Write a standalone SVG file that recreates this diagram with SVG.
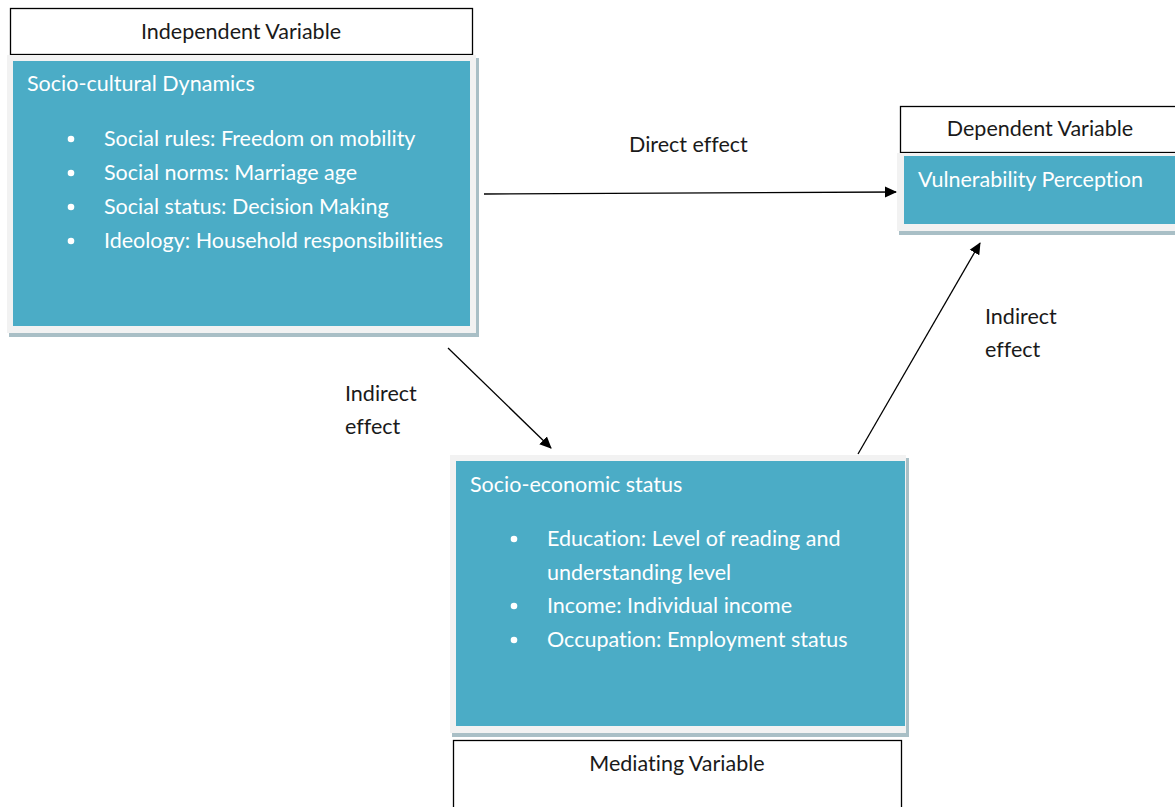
<svg xmlns="http://www.w3.org/2000/svg" width="1175" height="807" viewBox="0 0 1175 807">
<defs>
<marker id="ah" markerWidth="12" markerHeight="12" refX="11" refY="6" orient="auto" markerUnits="userSpaceOnUse" viewBox="0 0 12 12">
<path d="M0,0.5 L12,6 L0,11.5 z" fill="#000"/>
</marker>
<style>
.lbl{fill:#fff;stroke:#000;stroke-width:1.3}
.frame{fill:#f2f2f2}
.shadow{fill:#a9bfc6}
.teal{fill:#4bacc6}
.t{font-family:Lato,"Open Sans",sans-serif;font-size:21.5px;font-variant-ligatures:none}
.dk{fill:#1a1a1a}
.wt{fill:#fff}
.conn{stroke:#000;stroke-width:1.3;fill:none;marker-end:url(#ah)}
</style>
</defs>
<rect width="1175" height="807" fill="#fff"/>
<g id="independent">
<rect class="lbl" x="10.5" y="8.5" width="462" height="46"/>
<text class="t dk" x="241" y="39" text-anchor="middle">Independent Variable</text>
<rect class="shadow" x="9" y="58" width="470" height="279"/>
<rect class="frame" x="7" y="55" width="469" height="278"/>
<rect class="teal" x="13" y="61" width="457" height="265"/>
<text class="t wt" x="27" y="91">Socio-cultural Dynamics</text>
<g class="wt">
<circle cx="71" cy="139" r="3.3"/><circle cx="71" cy="173" r="3.3"/><circle cx="71" cy="207" r="3.3"/><circle cx="71" cy="241" r="3.3"/>
</g>
<text class="t wt" x="104" y="146">Social rules: Freedom on mobility</text>
<text class="t wt" x="104" y="180">Social norms: Marriage age</text>
<text class="t wt" x="104" y="214">Social status: Decision Making</text>
<text class="t wt" x="104" y="248">Ideology: Household responsibilities</text>
</g>
<g id="dependent">
<rect class="lbl" x="900.5" y="106.5" width="276" height="46"/>
<text class="t dk" x="1040" y="136" text-anchor="middle">Dependent Variable</text>
<rect class="shadow" x="899" y="156" width="280" height="79"/>
<rect class="frame" x="897" y="153" width="280" height="78"/>
<rect class="teal" x="904" y="156" width="273" height="68"/>
<text class="t wt" x="918" y="187">Vulnerability Perception</text>
</g>
<g id="mediating">
<rect class="shadow" x="452" y="458" width="457" height="279"/>
<rect class="frame" x="450" y="455" width="456" height="278"/>
<rect class="teal" x="456" y="461" width="449" height="265"/>
<text class="t wt" x="470" y="492">Socio-economic status</text>
<g class="wt">
<circle cx="514" cy="539" r="3.3"/><circle cx="514" cy="606" r="3.3"/><circle cx="514" cy="640" r="3.3"/>
</g>
<text class="t wt" x="547" y="546">Education: Level of reading and</text>
<text class="t wt" x="547" y="580">understanding level</text>
<text class="t wt" x="547" y="613">Income: Individual income</text>
<text class="t wt" x="547" y="647">Occupation: Employment status</text>
<rect class="lbl" x="453.5" y="740.5" width="448" height="80"/>
<text class="t dk" x="677" y="771" text-anchor="middle">Mediating Variable</text>
</g>
<g id="connectors">
<line class="conn" x1="484" y1="194" x2="896" y2="192"/>
<line class="conn" x1="448" y1="348" x2="551" y2="448"/>
<line class="conn" x1="858" y1="454" x2="980" y2="243"/>
<text class="t dk" x="629" y="152">Direct effect</text>
<text class="t dk" x="345" y="401">Indirect</text>
<text class="t dk" x="345" y="434">effect</text>
<text class="t dk" x="985" y="324">Indirect</text>
<text class="t dk" x="985" y="357">effect</text>
</g>
</svg>
